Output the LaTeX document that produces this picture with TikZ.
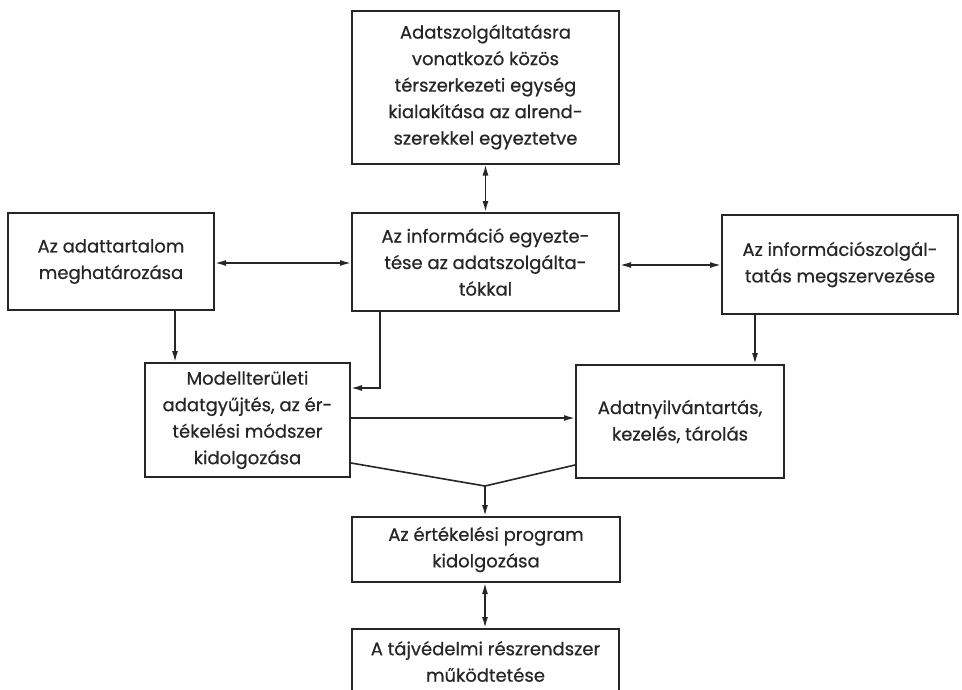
\documentclass[tikz,border=0pt]{standalone}
\usepackage{fontspec}
\setmainfont{Poppins}
\newfontfamily\boxfont{Poppins}[FakeBold=0.6]
\usetikzlibrary{arrows.meta}
\definecolor{ink}{HTML}{262626}
\begin{document}
\begin{tikzpicture}[x=1pt, y=-1pt,
	box/.style={draw=ink, line width=2pt, align=center, text=ink, inner sep=0pt, font=\boxfont\fontsize{18}{26.5}\selectfont},
	link/.style={draw=ink, line width=1.6pt},
	tip/.style={link, -{Latex[length=11pt,width=6pt]}},
	both/.style={link, {Latex[length=11pt,width=6pt]}-{Latex[length=11pt,width=6pt]}}]
		\useasboundingbox (0,0) rectangle (962,689);
		\clip (0,0) rectangle (962,689);
		% Top box
		\node[box, minimum width=267pt, minimum height=153pt] (kozos) at (485.5,87) {Adatszolgáltatásra\\vonatkozó közös\\térszerkezeti egység\\kialakítása az alrend-\\szerekkel egyeztetve};
		% Middle row
		\node[box, minimum width=206pt, minimum height=97pt] (tartalom) at (111,261.5) {Az adattartalom\\meghatározása};
		\node[box, minimum width=267pt, minimum height=98pt] (egyezt) at (485.5,262) {Az információ egyezte-\\tése az adatszolgálta-\\tókkal};
		\node[box, minimum width=236pt, minimum height=99pt] (szerv) at (840,264.5) {Az információszolgál-\\tatás megszervezése};
		% Lower row
		\node[box, minimum width=205pt, minimum height=114pt] (modell) at (247.5,420) {Modellterületi\\adatgyűjtés, az ér-\\tékelési módszer\\kidolgozása};
		\node[box, minimum width=208pt, minimum height=113pt] (nyilv) at (680,421.5) {Adatnyilvántartás,\\kezelés, tárolás};
		% Bottom column (last box runs off the page)
		\node[box, minimum width=268pt, minimum height=65pt] (program) at (486,549.5) {Az értékelési program\\kidolgozása};
		\node[box, minimum width=267pt, minimum height=65pt] (mukod) at (485.5,661.5) {A tájvédelmi részrendszer\\működtetése};
		% Helper points
		\coordinate (lx) at (175,0);
		\coordinate (bend) at (380,388);
		\coordinate (rx) at (755,0);
		\coordinate (merge) at (485,486);
		% Connectors
		\draw[both] (kozos.south) -- (egyezt.north);
		\draw[both] (tartalom.east |- 0,263) -- (egyezt.west |- 0,263);
		\draw[both] (egyezt.east |- 0,265) -- (szerv.west |- 0,265);
		\draw[tip] (tartalom.south -| lx) -- (modell.north -| lx);
		\draw[tip] (egyezt.south -| bend) -- (bend) -- (modell.east |- bend);
		\draw[tip] (szerv.south -| rx) -- (nyilv.north -| rx);
		\draw[tip] (modell.east |- 0,418) -- (nyilv.west |- 0,418);
		\draw[link] (modell.east |- 0,463) -- (merge) -- (nyilv.west |- 0,465);
		\draw[tip] (merge) -- (program.north -| merge);
		\draw[both] (program.south -| merge) -- (mukod.north -| merge);
\end{tikzpicture}
\end{document}
